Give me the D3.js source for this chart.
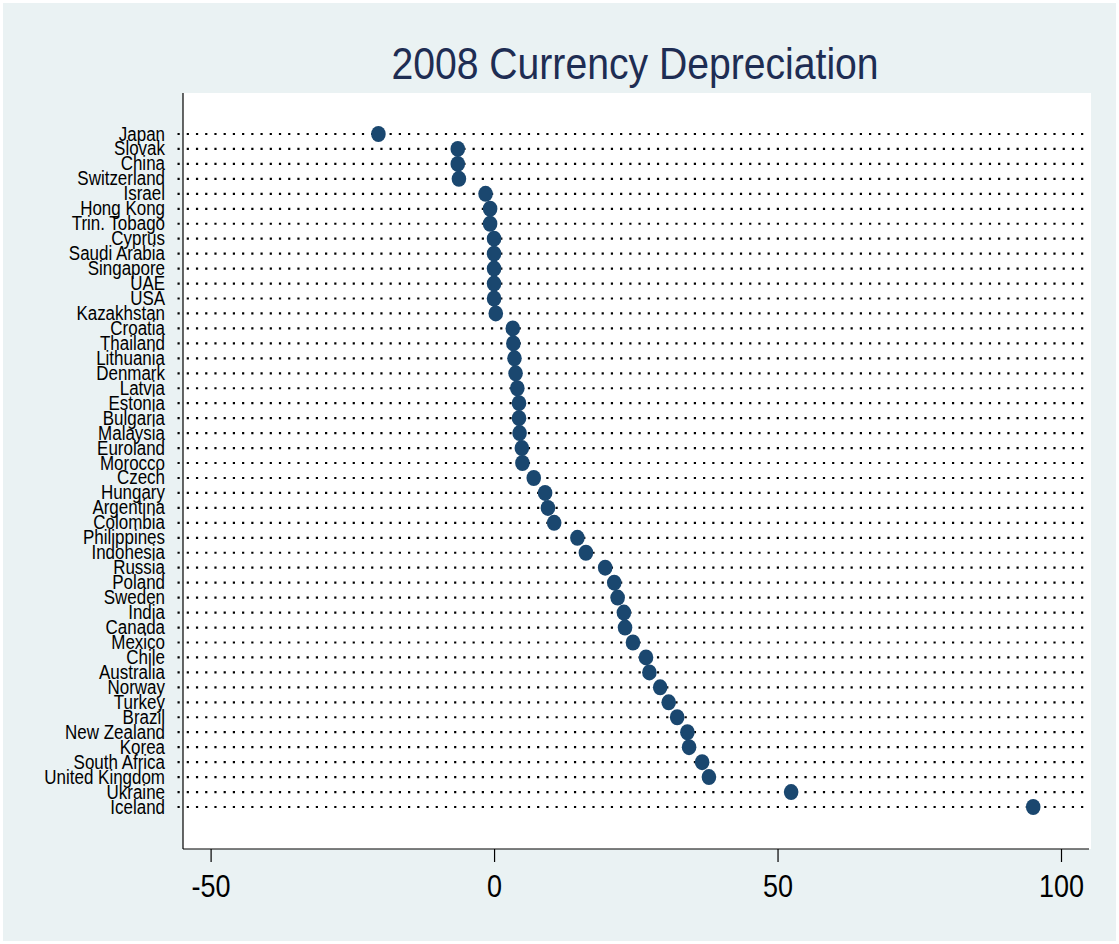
<!DOCTYPE html>
<html>
<head>
<meta charset="utf-8">
<script src="https://cdn.jsdelivr.net/npm/d3@7"></script>
<style>
  body { margin: 0; background: #fff; }
  text { font-family: "Liberation Sans", Arial, sans-serif; }
</style>
</head>
<body>
<svg></svg>
<script>
const countries = ['Japan', 'Slovak', 'China', 'Switzerland', 'Israel', 'Hong Kong', 'Trin. Tobago',
  'Cyprus', 'Saudi Arabia', 'Singapore', 'UAE', 'USA', 'Kazakhstan', 'Croatia', 'Thailand',
  'Lithuania', 'Denmark', 'Latvia', 'Estonia', 'Bulgaria', 'Malaysia', 'Euroland', 'Morocco',
  'Czech', 'Hungary', 'Argentina', 'Colombia', 'Philippines', 'Indonesia', 'Russia', 'Poland',
  'Sweden', 'India', 'Canada', 'Mexico', 'Chile', 'Australia', 'Norway', 'Turkey', 'Brazil',
  'New Zealand', 'Korea', 'South Africa', 'United Kingdom', 'Ukraine', 'Iceland'];
const depreciation = [-20.4, -6.4, -6.4, -6.2, -1.5, -0.7, -0.7,
  0, 0, 0, 0, 0, 0.3, 3.3, 3.4,
  3.6, 3.8, 4.1, 4.4, 4.4, 4.5, 4.9, 5.0,
  7.0, 9.0, 9.5, 10.6, 14.7, 16.2, 19.6, 21.2,
  21.8, 22.9, 23.1, 24.5, 26.8, 27.4, 29.3, 30.8, 32.3,
  34.1, 34.4, 36.7, 37.9, 52.4, 95.1];
const xTicks = [-50, 0, 50, 100];
const title = '2008 Currency Depreciation';

const width = 1119, height = 944;
const plot = {left: 183, right: 1091, top: 93, bottom: 849};
const squeeze = 0.87; // text is drawn a bit narrower than normal

const data = countries.map((c, i) => ({country: c, value: depreciation[i]}));

const svg = d3.select('svg')
  .attr('width', width)
  .attr('height', height);

svg.append('rect')
  .attr('x', 3).attr('y', 3)
  .attr('width', width - 6).attr('height', height - 6)
  .attr('fill', '#eaf2f3');

svg.append('rect')
  .attr('x', plot.left).attr('y', plot.top)
  .attr('width', plot.right - plot.left).attr('height', plot.bottom - plot.top)
  .attr('fill', '#fff');

const xScale = d3.scaleLinear()
  .domain([-50, 100])
  .range([210.6, 1061]);

const yScale = d3.scalePoint()
  .domain(countries)
  .range([134, 807]);

// title
svg.append('text')
  .attr('transform', `translate(${(plot.left + plot.right) / 2 - 2}, 79) scale(${squeeze},1)`)
  .attr('text-anchor', 'middle')
  .attr('font-size', 45)
  .attr('fill', '#1e2d53')
  .text(title);

// dotted guide lines
svg.append('g').selectAll('line').data(data)
  .enter().append('line')
  .attr('x1', 177.5)
  .attr('x2', 1087)
  .attr('y1', d => yScale(d.country))
  .attr('y2', d => yScale(d.country))
  .attr('stroke', '#000')
  .attr('stroke-width', 2.2)
  .attr('stroke-dasharray', '2.2,7.02');

// category labels
svg.append('g').selectAll('text').data(data)
  .enter().append('text')
  .attr('transform', d => `translate(165, ${yScale(d.country) + 6.5}) scale(${squeeze},1)`)
  .attr('text-anchor', 'end')
  .attr('font-size', 19.5)
  .attr('fill', '#000')
  .text(d => d.country);

// left axis line
svg.append('line')
  .attr('x1', plot.left).attr('x2', plot.left)
  .attr('y1', plot.top).attr('y2', plot.bottom)
  .attr('stroke', '#000').attr('stroke-width', 1.2);

// bottom axis
const xAxis = svg.append('g')
  .attr('transform', `translate(0, ${plot.bottom})`)
  .call(d3.axisBottom(xScale).tickValues(xTicks).tickSize(13).tickPadding(0).tickFormat(d3.format('d')));
xAxis.select('.domain')
  .attr('d', `M${plot.left},0H${plot.right - 2}`)
  .attr('stroke-width', 1.2);
xAxis.selectAll('.tick line').attr('stroke-width', 1.2);
xAxis.selectAll('.tick text')
  .attr('font-size', 31)
  .attr('font-family', '"Liberation Sans", Arial, sans-serif')
  .attr('fill', '#000')
  .attr('dy', null)
  .attr('y', 48)
  .attr('transform', `scale(${squeeze},1)`)
  .attr('x', 0)
  .text(d => d3.format('d')(d).replace('−', '-'));

// markers
svg.append('g').selectAll('ellipse').data(data)
  .enter().append('ellipse')
  .attr('cx', d => xScale(d.value))
  .attr('cy', d => yScale(d.country))
  .attr('rx', 7.3)
  .attr('ry', 8)
  .attr('fill', '#1a476f');
</script>
</body>
</html>
